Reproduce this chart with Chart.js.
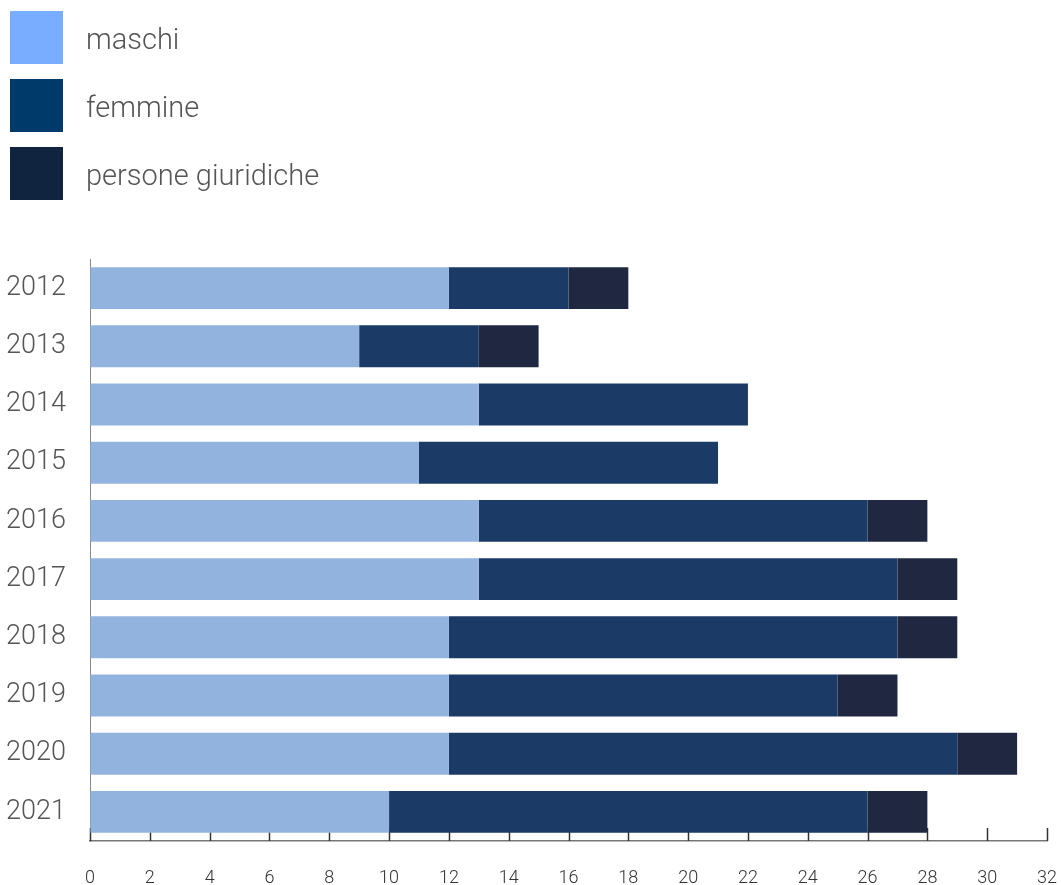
<!DOCTYPE html>
<html>
<head>
<meta charset="utf-8">
<script src="https://cdn.jsdelivr.net/npm/chart.js@4.4.0/dist/chart.umd.min.js"></script>
<style>
  body { margin: 0; background: #fff; font-family: Roboto, sans-serif; }
  #wrap { position: relative; width: 1061px; height: 885px; overflow: hidden; }
  #legend { position: absolute; left: 10px; top: 11px; }
  .item { display: flex; align-items: center; height: 53px; margin-bottom: 15px; }
  .box { width: 53px; height: 53px; margin-right: 23px; }
  .lbl { font-size: 29px; font-weight: 300; color: #555; position: relative; top: 1px; }
</style>
</head>
<body>
<div id="wrap">
  <canvas id="barChart"></canvas>
  <div id="legend"></div>
</div>
<script>
// data
const years = ['2012', '2013', '2014', '2015', '2016', '2017', '2018', '2019', '2020', '2021'];
const maschi = [12, 9, 13, 11, 13, 13, 12, 12, 12, 10];
const femmine = [4, 4, 9, 10, 13, 14, 15, 13, 17, 16];
const giuridiche = [2, 2, 0, 0, 2, 2, 2, 2, 2, 2];
const seriesNames = ['maschi', 'femmine', 'persone giuridiche'];
const barColors = ['#93b3df', '#1b3a66', '#1f2840'];
const legendColors = ['#79adff', '#003a6a', '#10233f'];

// html legend, stacked vertically
const legendEl = document.getElementById('legend');
seriesNames.forEach((name, i) => {
    const row = document.createElement('div');
    row.className = 'item';
    row.innerHTML = '<div class="box" style="background:' + legendColors[i] + '"></div><span class="lbl">' + name + '</span>';
    legendEl.appendChild(row);
});

// ticks pointing up from the x axis, drawn under the bars
const upTicks = {
    id: 'upTicks',
    beforeDatasetsDraw(chart) {
        const x = chart.scales.x;
        const ctx = chart.ctx;
        const bottom = chart.chartArea.bottom;
        ctx.save();
        ctx.strokeStyle = '#333';
        ctx.lineWidth = 1.5;
        x.ticks.forEach(t => {
            const px = Math.round(x.getPixelForValue(t.value)) + 0.5;
            ctx.beginPath();
            ctx.moveTo(px, bottom);
            ctx.lineTo(px, bottom - 13);
            ctx.stroke();
        });
        ctx.restore();
    }
};

const ctx = document.getElementById('barChart').getContext('2d');
new Chart(ctx, {
    type: 'bar',
    data: {
        labels: years,
        datasets: [
            { label: seriesNames[0], data: maschi, backgroundColor: barColors[0] },
            { label: seriesNames[1], data: femmine, backgroundColor: barColors[1] },
            { label: seriesNames[2], data: giuridiche, backgroundColor: barColors[2] },
        ],
    },
    options: {
        indexAxis: 'y',
        responsive: true,
        maintainAspectRatio: false,
        animation: false,
        layout: { padding: { top: 259, left: 0, right: 14, bottom: 0 } },
        datasets: { bar: { categoryPercentage: 1, barPercentage: 0.72 } },
        plugins: {
            legend: { display: false },
            tooltip: { enabled: false },
        },
        scales: {
            x: {
                stacked: true,
                min: 0,
                max: 32,
                ticks: {
                    stepSize: 2,
                    padding: 27,
                    color: '#333',
                    font: { family: 'Roboto', size: 18, weight: 300 },
                },
                grid: { drawOnChartArea: false, drawTicks: false, color: 'rgba(0,0,0,0)' },
                border: { display: true, color: '#777', width: 1.5 },
                afterFit(scale) {
                    scale.height = 44;
                    scale.paddingLeft = 0;
                    scale.paddingRight = 0;
                },
            },
            y: {
                stacked: true,
                ticks: {
                    padding: 16,
                    color: '#555',
                    font: { family: 'Roboto', size: 27, weight: 300 },
                },
                grid: { display: false },
                border: { display: true, color: '#888', width: 1 },
                afterFit(scale) { scale.width = 90; },
            },
        },
    },
    plugins: [upTicks],
});
</script>
</body>
</html>
